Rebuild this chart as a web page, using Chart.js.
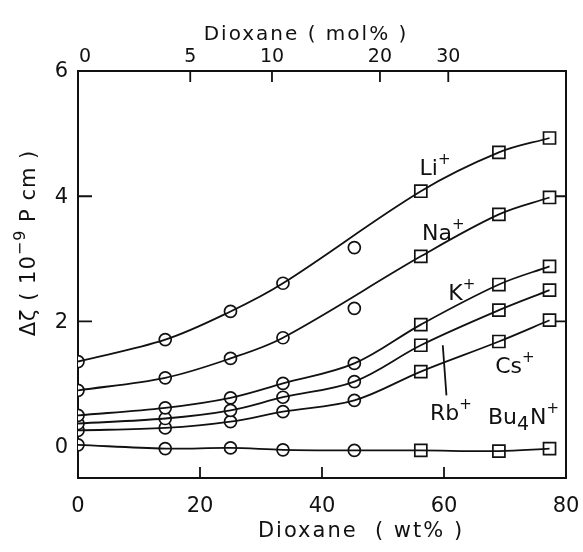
<!DOCTYPE html>
<html><head><meta charset="utf-8">
<script src="https://cdn.jsdelivr.net/npm/chart.js@4"></script>
<style>html,body{margin:0;padding:0;background:#fff}#wrap{width:583px;height:552px;position:relative}</style>
</head><body><div id="wrap"><canvas id="c" width="583" height="552"></canvas></div>
<script>
// ---- data ----
const wtPercent = [0, 14.3, 25, 33.6, 45.3, 56.2, 69, 77.3];
const liValues  = [1.36, 1.71, 2.16, 2.61, 3.18, 4.08, 4.70, 4.93];
const naValues  = [0.90, 1.10, 1.41, 1.74, 2.21, 3.04, 3.71, 3.98];
const kValues   = [0.50, 0.62, 0.78, 1.01, 1.33, 1.95, 2.59, 2.88];
const rbValues  = [0.37, 0.45, 0.58, 0.79, 1.04, 1.62, 2.18, 2.50];
const csValues  = [0.26, 0.30, 0.40, 0.56, 0.74, 1.20, 1.68, 2.02];
const buValues  = [0.03, -0.03, -0.02, -0.05, -0.06, -0.06, -0.07, -0.03];
const ionNames  = ['Li+', 'Na+', 'K+', 'Rb+', 'Cs+', 'Bu4N+'];
const ionSeries = [liValues, naValues, kValues, rbValues, csValues, buValues];
const offCurveIndex = [4, 4, -1, -1, -1, -1];   // points lying off the drawn curve
const firstSquareIndex = 5;                      // squares from this point on
const xTickValues = [0, 20, 40, 60, 80];
const yTickValues = [0, 2, 4, 6];
const molTickLabels = ['0', '5', '10', '20', '30'];
const molTickAtWt = [0, 18.4, 31.8, 49.5, 60.7];

// ---- styles ----
const FONT = '"DejaVu Sans", sans-serif';
const INK = '#111';

const datasets = [];
ionSeries.forEach((vals, i) => {
  const pts = wtPercent.map((x, j) => ({x, y: vals[j]}));
  datasets.push({
    label: ionNames[i] + ' curve',
    data: pts.filter((p, j) => j !== offCurveIndex[i]),
    showLine: true, borderColor: INK, borderWidth: 1.8,
    pointRadius: 0, tension: 0.35, fill: false
  });
  datasets.push({
    label: ionNames[i],
    data: pts,
    showLine: false,
    pointStyle: pts.map((p, j) => j >= firstSquareIndex ? 'rect' : 'circle'),
    pointRadius: pts.map((p, j) => j >= firstSquareIndex ? 8.5 : 6),
    pointBackgroundColor: '#fff', pointBorderColor: INK, pointBorderWidth: 1.7
  });
});

// label pieces: [text, kind] kind: n = normal, sup = superscript, sub = subscript
const annotations = [
  {parts: [['Li', 'n'], ['+', 'sup']], x: 56.0, y: 4.34},
  {parts: [['Na', 'n'], ['+', 'sup']], x: 56.4, y: 3.30},
  {parts: [['K', 'n'], ['+', 'sup']], x: 60.7, y: 2.34},
  {parts: [['Rb', 'n'], ['+', 'sup']], x: 57.7, y: 0.43},
  {parts: [['Cs', 'n'], ['+', 'sup']], x: 68.4, y: 1.18},
  {parts: [['Bu', 'n'], ['4', 'sub'], ['N', 'n'], ['+', 'sup']], x: 67.2, y: 0.36}
];
const leader = [{x: 59.8, y: 1.62}, {x: 60.4, y: 0.82}];

function axisOpts(pos, min, max) {
  return {
    type: 'linear', position: pos, min, max,
    ticks: {display: false},
    grid: {display: false, drawTicks: false},
    border: {display: true, color: INK, width: 2}
  };
}

function drawRich(ctx, parts, x, y) {
  let cx = x;
  parts.forEach(([t, k]) => {
    let size = 22, dy = 0;
    if (k === 'sup') { size = 15; dy = -11; }
    if (k === 'sub') { size = 19; dy = 6; }
    ctx.font = size + 'px ' + FONT;
    ctx.fillText(t, cx, y + dy);
    cx += ctx.measureText(t).width + (k === 'sub' ? 1 : 0);
  });
}

const decor = {
  id: 'decor',
  afterDraw(chart) {
    const ctx = chart.ctx;
    const xs = chart.scales.x, ys = chart.scales.y;
    const a = chart.chartArea;
    ctx.save();
    ctx.strokeStyle = INK; ctx.fillStyle = INK; ctx.lineWidth = 1.8;
    // inward ticks
    const TL = 11;
    ctx.beginPath();
    xTickValues.forEach(v => {
      if (v === xs.min || v === xs.max) return;
      const px = xs.getPixelForValue(v);
      ctx.moveTo(px, a.bottom); ctx.lineTo(px, a.bottom - TL);
    });
    molTickAtWt.forEach(v => {
      if (v === xs.min) return;
      const px = xs.getPixelForValue(v);
      ctx.moveTo(px, a.top); ctx.lineTo(px, a.top + TL);
    });
    yTickValues.forEach(v => {
      if (v === 0 || v === ys.max) return;
      const py = ys.getPixelForValue(v);
      ctx.moveTo(a.left, py); ctx.lineTo(a.left + TL + 3, py);
      ctx.moveTo(a.right, py); ctx.lineTo(a.right - TL, py);
    });
    // leader line
    ctx.moveTo(xs.getPixelForValue(leader[0].x), ys.getPixelForValue(leader[0].y));
    ctx.lineTo(xs.getPixelForValue(leader[1].x), ys.getPixelForValue(leader[1].y));
    ctx.stroke();

    // tick labels
    ctx.textBaseline = 'middle';
    ctx.textAlign = 'center';
    ctx.font = '21px ' + FONT;
    xTickValues.forEach(v => ctx.fillText(String(v), xs.getPixelForValue(v), a.bottom + 29));
    ctx.font = '19px ' + FONT;
    molTickLabels.forEach((t, i) => ctx.fillText(t, xs.getPixelForValue(molTickAtWt[i]) + (i === 0 ? 7 : 0), a.top - 14));
    ctx.font = '21px ' + FONT;
    ctx.textAlign = 'right';
    yTickValues.forEach(v => ctx.fillText(String(v), a.left - 10, ys.getPixelForValue(v) + 1));

    // axis titles
    ctx.textAlign = 'center';
    ctx.letterSpacing = '2px';
    ctx.font = '21px ' + FONT;
    ctx.fillText('Dioxane  ( wt% )', 361, 532);
    ctx.font = '20px ' + FONT;
    ctx.fillText('Dioxane ( mol% )', 306, 35);
    // y title (rotated, with superscript)
    ctx.save();
    ctx.translate(30, 243);
    ctx.rotate(-Math.PI / 2);
    ctx.textAlign = 'left';
    ctx.letterSpacing = '1px';
    const parts = [
      {t: 'Δζ ( 10', f: '21px ', dy: 0},
      {t: '−9', f: '16px ', dy: -9},
      {t: ' P cm )', f: '21px ', dy: 0}
    ];
    let w = 0;
    parts.forEach(p => { ctx.font = p.f + FONT; w += ctx.measureText(p.t).width; });
    let cx = -w / 2;
    parts.forEach(p => {
      ctx.font = p.f + FONT;
      ctx.fillText(p.t, cx, p.dy);
      cx += ctx.measureText(p.t).width;
    });
    ctx.restore();

    // ion labels
    ctx.letterSpacing = '0px';
    ctx.textAlign = 'left';
    ctx.textBaseline = 'alphabetic';
    annotations.forEach(an => drawRich(ctx, an.parts, xs.getPixelForValue(an.x), ys.getPixelForValue(an.y)));
    ctx.restore();
  }
};

new Chart(document.getElementById('c'), {
  type: 'scatter',
  data: {datasets},
  options: {
    responsive: false, animation: false,
    layout: {padding: {left: 78, right: 17, top: 71, bottom: 74}},
    plugins: {legend: {display: false}, tooltip: {enabled: false}},
    scales: {
      x: axisOpts('bottom', 0, 80),
      x2: axisOpts('top', 0, 80),
      y: axisOpts('left', -0.5, 6),
      y2: axisOpts('right', -0.5, 6)
    }
  },
  plugins: [decor]
});
</script>
</body></html>
